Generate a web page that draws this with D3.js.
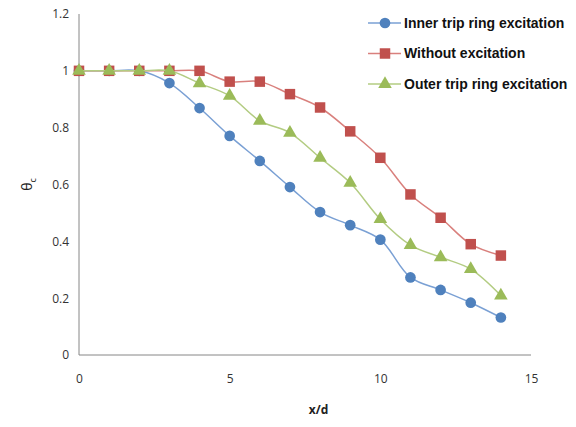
<!DOCTYPE html>
<html>
<head>
<meta charset="utf-8">
<script src="https://cdn.jsdelivr.net/npm/d3@7"></script>
<style>
  body { margin: 0; background: #fff; }
  svg { display: block; }
</style>
</head>
<body>
<svg id="chart" width="576" height="427"></svg>
<script>
// data
const xValues = [0, 1, 2, 3, 4, 5, 6, 7, 8, 9, 10, 11, 12, 13, 14];
const innerTrip = [1.0, 1.0, 1.0, 0.957, 0.869, 0.771, 0.683, 0.591, 0.503, 0.457, 0.406, 0.273, 0.229, 0.184, 0.132];
const withoutExc = [1.0, 1.0, 1.0, 1.0, 1.0, 0.962, 0.962, 0.918, 0.871, 0.787, 0.694, 0.565, 0.483, 0.390, 0.350];
const outerTrip = [1.0, 1.0, 1.0, 1.0, 0.956, 0.912, 0.824, 0.782, 0.694, 0.606, 0.478, 0.387, 0.344, 0.302, 0.209];
const seriesNames = ["Inner trip ring excitation", "Without excitation", "Outer trip ring excitation"];
const xTicks = [0, 5, 10, 15];
const yTicks = [0, 0.2, 0.4, 0.6, 0.8, 1, 1.2];

const svg = d3.select("#chart");
const margin = {top: 14, right: 45, bottom: 72, left: 79};
const width = 576, height = 427;

const x = d3.scaleLinear().domain([0, 15]).range([margin.left, width - margin.right]);
const y = d3.scaleLinear().domain([0, 1.2]).range([height - margin.bottom, margin.top]);

const series = [
  {name: seriesNames[0], values: innerTrip, line: "#7aa0d4", fill: "#4f81bd", shape: "circle"},
  {name: seriesNames[1], values: withoutExc, line: "#d9807d", fill: "#c0504d", shape: "square"},
  {name: seriesNames[2], values: outerTrip, line: "#b3cc82", fill: "#9bbb59", shape: "triangle"}
];

// axes, no tick marks
const xAxis = svg.append("g")
  .attr("transform", `translate(0,${y(0)})`)
  .call(d3.axisBottom(x).tickValues(xTicks).tickSize(0).tickPadding(19));
const yAxis = svg.append("g")
  .attr("transform", `translate(${x(0)},0)`)
  .call(d3.axisLeft(y).tickValues(yTicks).tickSize(0).tickPadding(10).tickFormat(d => d3.format("")(+d.toFixed(1))));

[xAxis, yAxis].forEach(g => {
  g.select(".domain").attr("stroke", "#868686").attr("stroke-width", 1);
  g.selectAll("text")
    .attr("font-family", "Open Sans, sans-serif")
    .attr("font-size", "12px")
    .attr("fill", "#333");
});
// the y axis in the original stops at 1.2; x axis runs to 15
xAxis.select(".domain").attr("d", `M${x(0)},0H${x(15)}`);
yAxis.select(".domain").attr("d", `M0,${y(0)}V${y(1.2)}`);

// axis titles
svg.append("text")
  .attr("x", x(7.95)).attr("y", 414)
  .attr("text-anchor", "middle")
  .attr("font-family", "Open Sans, sans-serif")
  .attr("font-size", "12px").attr("font-weight", "bold").attr("fill", "#222")
  .text("x/d");

const yTitle = svg.append("text")
  .attr("transform", `translate(32,${y(0.6)}) rotate(-90)`)
  .attr("text-anchor", "middle")
  .attr("font-family", "Open Sans, sans-serif")
  .attr("font-size", "14px").attr("fill", "#222");
yTitle.append("tspan").text("θ");
yTitle.append("tspan").attr("font-size", "9px").attr("dy", 4).text("c");

const line = d3.line()
  .x((d, i) => x(xValues[i]))
  .y(d => y(d))
  .curve(d3.curveCatmullRom.alpha(0.5));

const symbols = {
  circle: d3.symbol().type(d3.symbolCircle).size(90),
  square: d3.symbol().type(d3.symbolSquare).size(110),
  triangle: d3.symbol().type(d3.symbolTriangle).size(80)
};

series.forEach(s => {
  svg.append("path")
    .datum(s.values)
    .attr("d", line)
    .attr("fill", "none")
    .attr("stroke", s.line)
    .attr("stroke-width", 1.5);

  svg.append("g")
    .selectAll("path")
    .data(s.values)
    .join("path")
    .attr("transform", (d, i) => `translate(${x(xValues[i])},${y(d)})`)
    .attr("d", symbols[s.shape])
    .attr("fill", s.fill);
});

// legend
const legend = svg.append("g").attr("transform", "translate(368,23)");
series.forEach((s, i) => {
  const row = legend.append("g").attr("transform", `translate(0,${i * 30.5})`);
  row.append("line")
    .attr("x1", 0).attr("x2", 33).attr("y1", 0).attr("y2", 0)
    .attr("stroke", s.line).attr("stroke-width", 1.5);
  row.append("path")
    .attr("transform", "translate(17,0)")
    .attr("d", symbols[s.shape])
    .attr("fill", s.fill);
  row.append("text")
    .attr("x", 36).attr("y", 0).attr("dy", "0.35em")
    .attr("font-family", "Liberation Sans, Arial, sans-serif")
    .attr("font-size", "14px").attr("font-weight", "bold").attr("fill", "#111")
    .text(s.name);
});
</script>
</body>
</html>
